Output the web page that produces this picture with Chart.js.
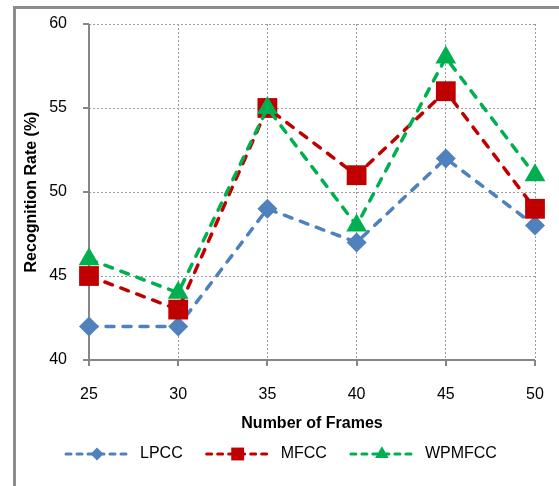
<!DOCTYPE html>
<html>
<head>
<meta charset="utf-8">
<script src="https://cdn.jsdelivr.net/npm/chart.js@4"></script>
<style>
  html, body { margin: 0; padding: 0; background: #fff; }
  canvas { display: block; }
</style>
</head>
<body>
<canvas id="rateChart" width="559" height="486"></canvas>
<script>
// frame counts and recognition rates (%)
const frames = ['25', '30', '35', '40', '45', '50'];
const lpcc = [42, 42, 49, 47, 52, 48];
const mfcc = [45, 43, 55, 51, 56, 49];
const wpmfcc = [46, 44, 55, 48, 58, 51];
const yTicks = [40, 45, 50, 55, 60];

const axisGray = '#868686';
const gridGray = '#9a9a9a';
const font = 'Liberation Sans, Arial, sans-serif';

const series = [
  { label: 'LPCC', data: lpcc, color: '#4F81BD', style: 'rectRot', radius: 10, order: 3 },
  { label: 'MFCC', data: mfcc, color: '#C00000', style: 'rect', radius: 14, order: 2 },
  { label: 'WPMFCC', data: wpmfcc, color: '#00B050', style: 'triangle', radius: 12, order: 1 }
];

// outer chart frame
const framePlugin = {
  id: 'frame',
  beforeDraw(chart) {
    const c = chart.ctx;
    c.save();
    c.strokeStyle = '#8c8c8c';
    c.lineWidth = 3;
    c.strokeRect(14.5, 7.5, 700, 700);
    c.restore();
  }
};

// solid axis lines and tick marks, drawn over the dotted grid
const tickPlugin = {
  id: 'tickMarks',
  beforeDatasetsDraw(chart) {
    const c = chart.ctx;
    const x = chart.scales.x, y = chart.scales.y;
    const area = chart.chartArea;
    c.save();
    c.strokeStyle = axisGray;
    c.lineWidth = 2;
    c.beginPath();
    c.moveTo(area.left, area.top);
    c.lineTo(area.left, area.bottom);
    c.lineTo(area.right, area.bottom);
    y.ticks.forEach((t, i) => {
      const py = Math.round(y.getPixelForTick(i));
      c.moveTo(area.left - 6, py);
      c.lineTo(area.left, py);
    });
    x.ticks.forEach((t, i) => {
      const px = Math.round(x.getPixelForTick(i));
      c.moveTo(px, area.bottom);
      c.lineTo(px, area.bottom + 6);
    });
    c.stroke();
    c.restore();
  }
};

// legend row: dashed line with marker in the middle, then the name
const legendPlugin = {
  id: 'lineLegend',
  afterDraw(chart) {
    const c = chart.ctx;
    const cy = 454;
    let x = 64;
    c.save();
    c.font = '16px ' + font;
    c.textBaseline = 'middle';
    chart.data.datasets.forEach((ds) => {
      c.strokeStyle = ds.borderColor;
      c.lineWidth = 3;
      c.setLineDash([5, 6]);
      c.lineCap = 'round';
      c.beginPath();
      c.moveTo(x + 2, cy);
      c.lineTo(x + 64, cy);
      c.stroke();
      c.setLineDash([]);
      c.fillStyle = ds.borderColor;
      Chart.helpers.drawPoint(c, {
        pointStyle: ds.pointStyle,
        radius: ds.pointRadius * 0.65,
        borderWidth: 0,
        rotation: 0
      }, x + 33, cy);
      c.fillStyle = '#000';
      c.fillText(ds.label, x + 76, cy);
      x += 76 + c.measureText(ds.label).width + 22;
    });
    c.restore();
  }
};

new Chart(document.getElementById('rateChart'), {
  type: 'line',
  data: {
    labels: frames,
    datasets: series.map(s => ({
      label: s.label,
      data: s.data,
      borderColor: s.color,
      backgroundColor: s.color,
      borderWidth: 3.5,
      borderDash: [8, 9],
      borderCapStyle: 'round',
      tension: 0,
      pointStyle: s.style,
      pointRadius: s.radius,
      pointHoverRadius: s.radius,
      pointBorderWidth: 0,
      pointBackgroundColor: s.color,
      order: s.order
    }))
  },
  options: {
    responsive: false,
    animation: false,
    events: [],
    layout: { padding: { left: 14, top: 24, right: 24, bottom: 46 } },
    plugins: { legend: { display: false }, tooltip: { enabled: false } },
    scales: {
      x: {
        offset: false,
        afterFit(scale) {
          scale.height = 80;
          scale.paddingLeft = 0;
          scale.paddingRight = 0;
        },
        grid: { color: gridGray, lineWidth: 1, drawTicks: false },
        border: { display: false, dash: [2, 2] },
        ticks: { color: '#000', font: { family: font, size: 16 }, padding: 25, maxRotation: 0 },
        title: {
          display: true,
          text: 'Number of Frames',
          color: '#000',
          font: { family: font, size: 16, weight: 'bold' },
          padding: { top: 0, bottom: 7 }
        }
      },
      y: {
        min: 40,
        max: 60,
        afterBuildTicks(scale) { scale.ticks = yTicks.map(v => ({ value: v })); },
        afterFit(scale) {
          scale.width = 75;
          scale.paddingTop = 0;
          scale.paddingBottom = 0;
        },
        grid: { color: gridGray, lineWidth: 1, drawTicks: false },
        border: { display: false, dash: [2, 2] },
        ticks: { color: '#000', font: { family: font, size: 16 }, padding: 22 },
        title: {
          display: true,
          text: 'Recognition Rate (%)',
          color: '#000',
          font: { family: font, size: 16, weight: 'bold' },
          padding: { top: 8, bottom: 0 }
        }
      }
    }
  },
  plugins: [framePlugin, tickPlugin, legendPlugin]
});
</script>
</body>
</html>
